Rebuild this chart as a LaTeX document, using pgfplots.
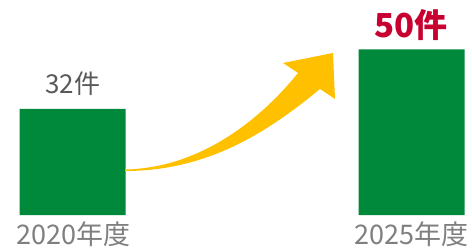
\documentclass[border=0pt]{standalone}
\usepackage{pgfplots}
\pgfplotsset{compat=1.18}
\usepackage{fontspec}
\setmainfont{Noto Sans CJK JP}
\definecolor{bargreen}{RGB}{0,137,58}
\definecolor{arrowyellow}{RGB}{255,192,0}
\definecolor{labgray}{RGB}{127,127,127}
\definecolor{darkgray}{RGB}{89,89,89}
\definecolor{hired}{RGB}{200,0,48}
\begin{document}
\begin{tikzpicture}
\begin{axis}[
  name=ax, at={(0,0)}, anchor=south west,
  scale only axis, width=472bp, height=215bp,
  xmin=0, xmax=472, ymin=0, ymax=64.88,
  axis lines=none,
  clip=false,
  xtick={72.6,411.5},
  ytick=\empty,
]
\addplot[ybar, bar width=106, fill=bargreen, draw=none] coordinates {(72.6,32) (411.5,50)};
\node[anchor=base, text=darkgray, font=\fontsize{26bp}{30bp}\selectfont, inner sep=0pt] at (axis cs:72.6,36.8) {32件};
\node[anchor=base, text=hired, font=\fontsize{33bp}{38bp}\selectfont\bfseries, inner sep=0pt] at (axis cs:411,53.7) {50件};
\node[anchor=base, text=labgray, font=\fontsize{27bp}{32bp}\selectfont, inner sep=0pt] at (axis cs:73.5,-9.05) {2020年度};
\node[anchor=base, text=labgray, font=\fontsize{27bp}{32bp}\selectfont, inner sep=0pt] at (axis cs:411.5,-9.05) {2025年度};
\end{axis}
\begin{scope}[x=1bp,y=1bp]
\fill[arrowyellow] (125,44) .. controls (210,44) and (270,85) .. (320,126)
  -- (335,116) -- (333,162) -- (283,152) -- (298,142)
  .. controls (260,95) and (200,47) .. (125,45.5) -- cycle;
\end{scope}
\pgfresetboundingbox
\path (0,-34bp) rectangle (472bp,215bp);
\end{tikzpicture}
\end{document}
